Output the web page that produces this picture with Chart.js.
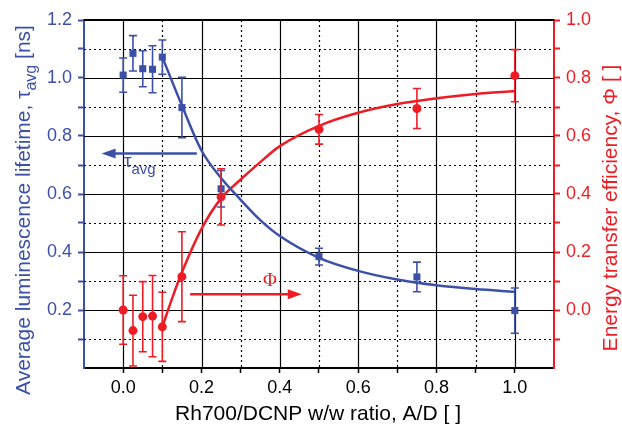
<!DOCTYPE html>
<html>
<head>
<meta charset="utf-8">
<script src="https://cdn.jsdelivr.net/npm/chart.js@4.4.0/dist/chart.umd.min.js"></script>
<style>
  body { margin: 0; background: #fff; }
  #wrap { width: 622px; height: 431px; }
</style>
</head>
<body>
<div id="wrap"><canvas id="chart"></canvas></div>
<script>
// measured points
const ratio = [0, 0.025, 0.05, 0.075, 0.1, 0.15, 0.25, 0.5, 0.75, 1.0];
const tauAvg = [1.010, 1.085, 1.032, 1.030, 1.072, 0.898, 0.618, 0.384, 0.314, 0.198];
const tauErr = [0.059, 0.061, 0.062, 0.081, 0.059, 0.104, 0.063, 0.029, 0.051, 0.078];
const phi = [0.0, -0.071, -0.023, -0.021, -0.058, 0.115, 0.39, 0.623, 0.695, 0.808];
const phiErr = [0.118, 0.122, 0.121, 0.14, 0.119, 0.155, 0.097, 0.051, 0.069, 0.09];

// fit curves
const tauFitX = [0.1, 0.15, 0.2, 0.25, 0.3, 0.35, 0.4, 0.5, 0.6, 0.7, 0.8, 0.9, 1.0];
const tauFitY = [1.072, 0.905, 0.75, 0.655, 0.58, 0.51, 0.455, 0.38, 0.335, 0.305, 0.285, 0.272, 0.263];
const phiFitX = [0.1, 0.125, 0.15, 0.2, 0.25, 0.3, 0.35, 0.4, 0.5, 0.6, 0.7, 0.8, 0.9, 1.0];
const phiFitY = [-0.058, 0.04, 0.13, 0.28, 0.385, 0.45, 0.51, 0.565, 0.635, 0.68, 0.71, 0.73, 0.745, 0.755];

// ticks
const xTicks = [0, 0.2, 0.4, 0.6, 0.8, 1.0];
const xMinor = [0.1, 0.3, 0.5, 0.7, 0.9];
const tauTicks = [0.2, 0.4, 0.6, 0.8, 1.0, 1.2];
const tauMinor = [0.1, 0.3, 0.5, 0.7, 0.9, 1.1];
const phiTicks = [0.0, 0.2, 0.4, 0.6, 0.8, 1.0];
const phiMinor = [-0.1, 0.1, 0.3, 0.5, 0.7, 0.9];

const BLUE = '#3c50a8';
const RED = '#ee1d25';
const FONT = "'Liberation Sans', Arial, sans-serif";

function near(list, v) {
    return list.some(t => Math.abs(t - v) < 1e-6);
}

function setTicks(major, minor) {
    return function(scale) {
        scale.ticks = major.concat(minor).sort((a, b) => a - b).map(v => ({ value: v }));
    };
}

const gridLines = {
    id: 'gridLines',
    beforeDatasetsDraw(chart) {
        const { ctx, chartArea: a, scales } = chart;
        ctx.save();
        ctx.strokeStyle = '#000';
        ctx.lineWidth = 1.2;
        xTicks.concat(xMinor).forEach(v => {
            const x = Math.round(scales.x.getPixelForValue(v)) + 0.5;
            ctx.setLineDash(near(xMinor, v) ? [2, 3] : []);
            ctx.beginPath();
            ctx.moveTo(x, a.top);
            ctx.lineTo(x, a.bottom);
            ctx.stroke();
        });
        tauTicks.concat(tauMinor).forEach(v => {
            const y = Math.round(scales.y.getPixelForValue(v)) + 0.5;
            ctx.setLineDash(near(tauMinor, v) ? [2, 3] : []);
            ctx.beginPath();
            ctx.moveTo(a.left, y);
            ctx.lineTo(a.right, y);
            ctx.stroke();
        });
        ctx.setLineDash([]);
        ctx.lineWidth = 2;
        ctx.beginPath();
        ctx.moveTo(a.left, a.top);
        ctx.lineTo(a.right, a.top);
        ctx.stroke();
        ctx.restore();
    }
};

const errorBars = {
    id: 'errorBars',
    afterDatasetsDraw(chart) {
        const { ctx, scales } = chart;
        function draw(vals, errs, yScale, color) {
            ctx.strokeStyle = color;
            ctx.lineWidth = 1.6;
            ratio.forEach((r, i) => {
                const x = scales.x.getPixelForValue(r);
                const y1 = yScale.getPixelForValue(vals[i] + errs[i]);
                const y2 = yScale.getPixelForValue(vals[i] - errs[i]);
                ctx.beginPath();
                ctx.moveTo(x, y1); ctx.lineTo(x, y2);
                ctx.moveTo(x - 4, y1); ctx.lineTo(x + 4, y1);
                ctx.moveTo(x - 4, y2); ctx.lineTo(x + 4, y2);
                ctx.stroke();
            });
        }
        ctx.save();
        draw(tauAvg, tauErr, scales.y, BLUE);
        draw(phi, phiErr, scales.y2, RED);
        ctx.restore();
    }
};

function arrow(ctx, x1, x2, y, color) {
    const dir = x2 > x1 ? 1 : -1;
    ctx.strokeStyle = color;
    ctx.fillStyle = color;
    ctx.lineWidth = 2.5;
    ctx.beginPath();
    ctx.moveTo(x1, y);
    ctx.lineTo(x2 - dir * 10, y);
    ctx.stroke();
    ctx.beginPath();
    ctx.moveTo(x2, y);
    ctx.lineTo(x2 - dir * 14, y - 5);
    ctx.lineTo(x2 - dir * 14, y + 5);
    ctx.closePath();
    ctx.fill();
}

const annotations = {
    id: 'annotations',
    afterDraw(chart) {
        const { ctx, scales } = chart;
        const sx = scales.x, sy = scales.y, sy2 = scales.y2;
        ctx.save();
        // tau arrow and label
        arrow(ctx, sx.getPixelForValue(0.188), sx.getPixelForValue(-0.055), sy.getPixelForValue(0.74), BLUE);
        ctx.fillStyle = BLUE;
        ctx.textBaseline = 'alphabetic';
        ctx.textAlign = 'left';
        let tx = sx.getPixelForValue(0.002);
        const ty = sy.getPixelForValue(0.693);
        ctx.font = '19px ' + FONT;
        ctx.fillText('τ', tx, ty);
        tx += ctx.measureText('τ').width;
        ctx.font = '15px ' + FONT;
        ctx.fillText('avg', tx, ty + 7);
        // phi arrow and label
        arrow(ctx, sx.getPixelForValue(0.171), sx.getPixelForValue(0.456), sy2.getPixelForValue(0.054), RED);
        ctx.fillStyle = RED;
        ctx.textAlign = 'center';
        ctx.font = "19px 'Liberation Serif', serif";
        ctx.fillText('Φ', sx.getPixelForValue(0.375), sy2.getPixelForValue(0.083));

        // axis titles
        ctx.textAlign = 'left';
        const big = '21px ' + FONT, small = '16px ' + FONT;
        // left
        const parts = [['Average luminescence lifetime, τ', big, 0], ['avg', small, 6], [' [ns]', big, 0]];
        let total = 0;
        parts.forEach(p => { ctx.font = p[1]; total += ctx.measureText(p[0]).width; });
        ctx.save();
        ctx.translate(30, 210);
        ctx.rotate(-Math.PI / 2);
        ctx.fillStyle = BLUE;
        let px = -total / 2;
        parts.forEach(p => {
            ctx.font = p[1];
            ctx.fillText(p[0], px, p[2]);
            px += ctx.measureText(p[0]).width;
        });
        ctx.restore();
        // right
        ctx.save();
        ctx.translate(617, 208);
        ctx.rotate(-Math.PI / 2);
        ctx.fillStyle = RED;
        ctx.font = big;
        ctx.textAlign = 'center';
        ctx.fillText('Energy transfer efficiency, Φ [ ]', 0, 0);
        ctx.restore();
        // bottom
        ctx.fillStyle = '#000';
        ctx.font = big;
        ctx.textAlign = 'center';
        ctx.textBaseline = 'middle';
        ctx.fillText('Rh700/DCNP w/w ratio, A/D [ ]', 318, 414);
        ctx.restore();
    }
};

const ctx = document.getElementById('chart').getContext('2d');
const tickFont = { size: 18, family: FONT };

new Chart(ctx, {
    type: 'scatter',
    data: {
        datasets: [
            {
                data: ratio.map((r, i) => ({ x: r, y: tauAvg[i] })),
                yAxisID: 'y',
                pointStyle: 'rect',
                pointRadius: 5,
                backgroundColor: BLUE,
                borderWidth: 0
            },
            {
                data: ratio.map((r, i) => ({ x: r, y: phi[i] })),
                yAxisID: 'y2',
                pointStyle: 'circle',
                pointRadius: 4.5,
                backgroundColor: RED,
                borderWidth: 0
            },
            {
                data: tauFitX.map((x, i) => ({ x: x, y: tauFitY[i] })),
                yAxisID: 'y',
                showLine: true,
                pointRadius: 0,
                borderColor: BLUE,
                borderWidth: 2.5,
                cubicInterpolationMode: 'monotone'
            },
            {
                data: phiFitX.map((x, i) => ({ x: x, y: phiFitY[i] })),
                yAxisID: 'y2',
                showLine: true,
                pointRadius: 0,
                borderColor: RED,
                borderWidth: 2.5,
                cubicInterpolationMode: 'monotone'
            }
        ]
    },
    options: {
        responsive: true,
        maintainAspectRatio: false,
        animation: false,
        layout: { padding: { top: 20, left: 0, right: 0, bottom: 0 } },
        plugins: { legend: { display: false }, tooltip: { enabled: false } },
        scales: {
            x: {
                type: 'linear',
                min: -0.1,
                max: 1.1,
                afterBuildTicks: setTicks(xTicks, xMinor),
                afterFit: s => { s.height = 63; },
                ticks: {
                    autoSkip: false,
                    maxRotation: 0,
                    color: '#000',
                    font: tickFont,
                    padding: 4,
                    callback: v => near(xTicks, v) ? v.toFixed(1) : ''
                },
                grid: { drawOnChartArea: false, tickLength: 5, tickColor: '#000', tickWidth: 1.5 },
                border: { color: '#000', width: 2 }
            },
            y: {
                position: 'left',
                min: 0,
                max: 1.2,
                afterBuildTicks: setTicks(tauTicks, tauMinor),
                afterFit: s => { s.width = 84; },
                ticks: {
                    autoSkip: false,
                    color: BLUE,
                    font: tickFont,
                    padding: 6,
                    callback: v => near(tauTicks, v) ? v.toFixed(1) : ''
                },
                grid: { drawOnChartArea: false, tickLength: 6, tickColor: BLUE, tickWidth: 2 },
                border: { color: BLUE, width: 2 }
            },
            y2: {
                position: 'right',
                min: -0.2,
                max: 1.0,
                afterBuildTicks: setTicks(phiTicks, phiMinor),
                afterFit: s => { s.width = 68; },
                ticks: {
                    autoSkip: false,
                    color: RED,
                    font: tickFont,
                    padding: 6,
                    callback: v => near(phiTicks, v) ? v.toFixed(1) : ''
                },
                grid: { drawOnChartArea: false, tickLength: 6, tickColor: RED, tickWidth: 2 },
                border: { color: RED, width: 2 }
            }
        }
    },
    plugins: [gridLines, errorBars, annotations]
});
</script>
</body>
</html>
